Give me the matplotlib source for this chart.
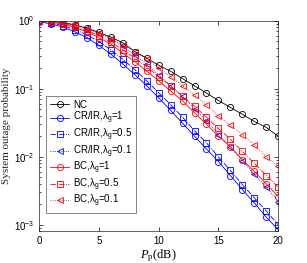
import numpy as np
import matplotlib.pyplot as plt
from matplotlib import ticker

plt.rcParams['font.family'] = ['Liberation Sans', 'DejaVu Sans']
plt.rcParams['mathtext.fontset'] = 'custom'
plt.rcParams['mathtext.rm'] = 'Liberation Serif'
plt.rcParams['mathtext.it'] = 'Liberation Serif:italic'
plt.rcParams['mathtext.sf'] = 'Liberation Sans'

pp_db = np.arange(0, 21)

nc = [1.0, 0.97, 0.93, 0.86, 0.77, 0.67, 0.57, 0.47, 0.35, 0.28, 0.22,
      0.18, 0.14, 0.11, 0.086, 0.067, 0.053, 0.042, 0.033, 0.027, 0.020]
crir_1 = [0.96, 0.89, 0.80, 0.68, 0.56, 0.43, 0.32, 0.23, 0.16, 0.11, 0.073,
          0.048, 0.031, 0.020, 0.013, 0.0085, 0.0053, 0.0033, 0.0021, 0.0013, 0.00085]
crir_05 = [0.97, 0.92, 0.84, 0.73, 0.62, 0.49, 0.37, 0.27, 0.19, 0.13, 0.087,
           0.058, 0.038, 0.024, 0.016, 0.0099, 0.0063, 0.0039, 0.0025, 0.0016, 0.0010]
crir_01 = [1.0, 0.98, 0.93, 0.86, 0.77, 0.66, 0.54, 0.42, 0.31, 0.23, 0.16,
           0.11, 0.077, 0.050, 0.034, 0.021, 0.014, 0.0088, 0.0055, 0.0036, 0.0022]
bc_1 = [0.99, 0.95, 0.88, 0.79, 0.68, 0.56, 0.45, 0.33, 0.25, 0.18, 0.13,
        0.092, 0.066, 0.044, 0.030, 0.020, 0.014, 0.0090, 0.0061, 0.0040, 0.0026]
bc_05 = [1.0, 0.96, 0.90, 0.82, 0.71, 0.60, 0.48, 0.37, 0.28, 0.21, 0.15,
         0.11, 0.077, 0.055, 0.038, 0.026, 0.018, 0.012, 0.0080, 0.0053, 0.0036]
bc_01 = [1.0, 0.97, 0.92, 0.85, 0.76, 0.65, 0.54, 0.44, 0.35, 0.27, 0.20,
         0.15, 0.11, 0.080, 0.058, 0.040, 0.029, 0.021, 0.015, 0.010, 0.0073]

series = [
    (nc, 'NC', 'k', '-', 'o'),
    (crir_1, r'CR/IR,λ$_{\mathsf{g}}$=1', 'b', '-', 'o'),
    (crir_05, r'CR/IR,λ$_{\mathsf{g}}$=0.5', 'b', '-.', 's'),
    (crir_01, r'CR/IR,λ$_{\mathsf{g}}$=0.1', 'b', ':', '<'),
    (bc_1, r'BC,λ$_{\mathsf{g}}$=1', 'r', '-', 'o'),
    (bc_05, r'BC,λ$_{\mathsf{g}}$=0.5', 'r', '-.', 's'),
    (bc_01, r'BC,λ$_{\mathsf{g}}$=0.1', 'r', ':', '<'),
]

fig = plt.figure(figsize=(3.07, 2.63), dpi=100)
ax = fig.add_axes([0.128, 0.120, 0.778, 0.802])

for y, lab, c, ls, m in series:
    ax.semilogy(pp_db, y, color=c, ls=ls, marker=m, lw=0.6, ms=4.4,
                mfc='none', mew=0.6, label=lab)

ax.set_xlim(0, 20)
ax.set_ylim(8e-4, 1)
ax.set_xticks([0, 5, 10, 15, 20])
ax.yaxis.set_major_formatter(ticker.FuncFormatter(
    lambda v, p: r'$\mathsf{10^{%d}}$' % round(np.log10(v))))
ax.tick_params(axis='both', which='both', direction='in', labelsize=7,
               top=True, right=True, width=0.5)
ax.tick_params(axis='both', which='major', length=3)
ax.tick_params(axis='both', which='minor', length=1.5)
for s in ax.spines.values():
    s.set_linewidth(0.5)
    s.set_color('0.15')

ax.set_xlabel(r'$P_{\rm p}$(dB)', fontsize=9, family='Liberation Serif', labelpad=1)
ax.set_ylabel('System outage probability', fontsize=8, family='Liberation Serif',
              color='0.15', labelpad=2)

leg = ax.legend(loc='upper left', bbox_to_anchor=(0.03, 0.64), borderaxespad=0,
                fontsize=7, frameon=True, fancybox=False, handlelength=2.0,
                handletextpad=0.4, labelspacing=0.05, borderpad=0.35)
leg.get_frame().set_edgecolor('0.15')
leg.get_frame().set_linewidth(0.5)

fig.savefig('out.png', dpi=100)
